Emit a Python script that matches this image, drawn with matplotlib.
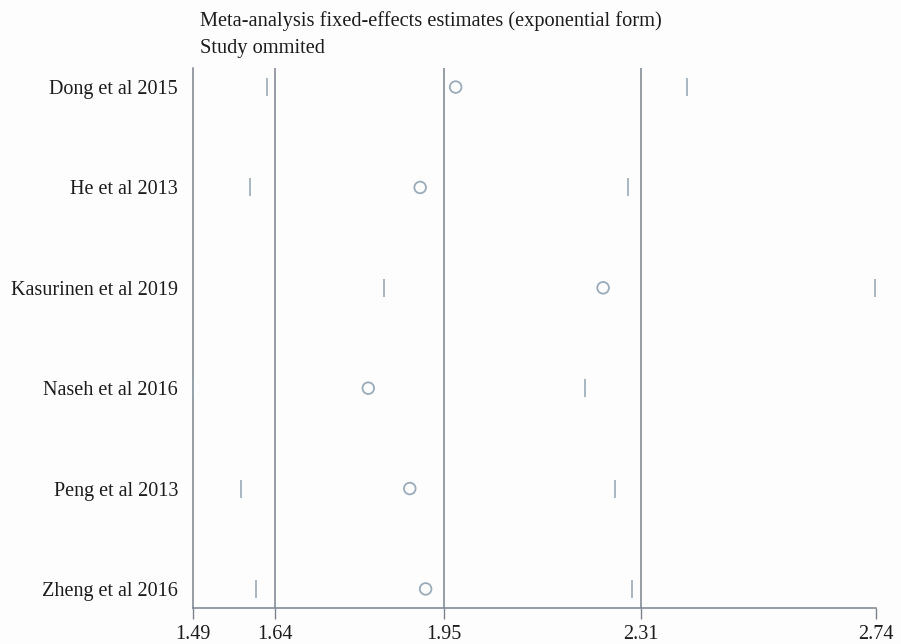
import matplotlib
matplotlib.use("Agg")
import matplotlib.pyplot as plt

studies = ["Dong et al 2015", "He et al 2013", "Kasurinen et al 2019",
           "Naseh et al 2016", "Peng et al 2013", "Zheng et al 2016"]
estimate = [1.971, 1.906, 2.241, 1.811, 1.887, 1.916]
lower = [1.626, 1.594, 1.840, 1.490, 1.578, 1.605]
upper = [2.395, 2.286, 2.738, 2.208, 2.262, 2.293]
overall = [1.64, 1.95, 2.31]
xticks = [1.49, 1.64, 1.95, 2.31, 2.74]
xticklabels = ["1.49", "1.64", "1.95", "2.31", "2.74"]
title1 = "Meta-analysis fixed-effects estimates (exponential form)"
title2 = "Study ommited"

plt.rcParams['font.family'] = ['Liberation Serif', 'DejaVu Serif']

W, H = 901, 644
fig = plt.figure(figsize=(W / 100, H / 100), dpi=100)
fig.patch.set_facecolor("#fdfdfe")
ax = fig.add_axes([193 / W, 1 - 608 / H, (875.6 - 193) / W, (608 - 68) / H])
ax.set_facecolor("#fdfdfe")

line_col = "#7a838d"
mark_col = "#9aabb9"
text_col = "#1c1c1c"

for v in overall:
    ax.axvline(v, color=line_col, lw=1.1, zorder=1)

ypos = list(range(len(studies)))
ax.scatter(estimate, ypos, s=70, facecolors="none", edgecolors=mark_col,
           linewidths=1.3, zorder=3)
ax.scatter(lower, ypos, marker="|", s=170, color=mark_col, linewidths=1.2, zorder=3)
ax.scatter(upper, ypos, marker="|", s=170, color=mark_col, linewidths=1.2, zorder=3)

ax.set_xlim(1.49, 2.74)
ax.set_ylim(5.19, -0.19)
ax.set_yticks(ypos)
ax.set_yticklabels(studies, fontsize=14.5, color=text_col)
ax.tick_params(axis="y", length=0, pad=10.8)
ax.set_xticks(xticks)
ax.set_xticklabels(xticklabels, fontsize=14.5, color=text_col)
ax.tick_params(axis="x", length=8, width=1.0, color=line_col, pad=4)

for s in ["top", "right"]:
    ax.spines[s].set_visible(False)
for s in ["left", "bottom"]:
    ax.spines[s].set_color(line_col)
    ax.spines[s].set_linewidth(1.1)

fig.text(200 / W, 1 - 26 / H, title1, fontsize=14.7, color=text_col, va="baseline", ha="left")
fig.text(200 / W, 1 - 53 / H, title2, fontsize=14.7, color=text_col, va="baseline", ha="left")

fig.savefig("out.png", dpi=100, facecolor=fig.get_facecolor())
